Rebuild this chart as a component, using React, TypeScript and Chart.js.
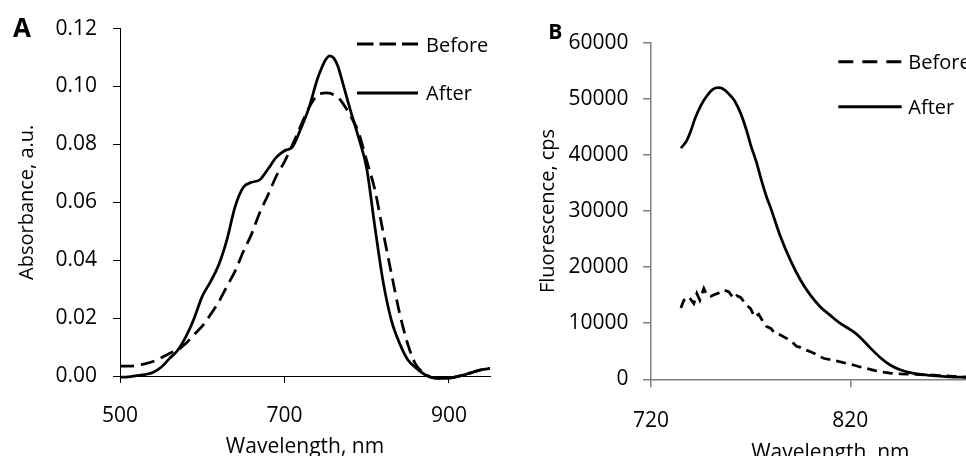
import React, { useEffect, useRef } from 'react';
import { Chart, registerables } from 'chart.js';

Chart.register(...registerables);

const FONT = '"Open Sans", "DejaVu Sans", sans-serif';

// ---------- Panel A: absorbance ----------
const wavelengthA = [500, 510, 520, 530, 540, 550, 560, 570, 580, 590, 600, 610, 620, 630, 640, 650, 660, 670, 680, 690, 700, 710, 720, 730, 740, 745, 750, 755, 760, 765, 770, 780, 790, 800, 810, 820, 830, 840, 850, 860, 870, 880, 890, 900, 910, 920, 930, 940, 950];
const absAfter = [-0.0004, -0.0003, 0.0001, 0.0005, 0.0012, 0.003, 0.006, 0.0088, 0.0135, 0.0198, 0.0275, 0.0325, 0.0383, 0.047, 0.0585, 0.0652, 0.0669, 0.0678, 0.0715, 0.0755, 0.0778, 0.0792, 0.0855, 0.0928, 0.1025, 0.1062, 0.1092, 0.1106, 0.1098, 0.107, 0.1022, 0.092, 0.0825, 0.0718, 0.0515, 0.0326, 0.0193, 0.0113, 0.0056, 0.0028, 0.0006, -0.0006, -0.0008, -0.0007, -0.0002, 0.0005, 0.0014, 0.0022, 0.0026];
const absBefore = [0.0034, 0.0034, 0.0036, 0.0042, 0.005, 0.0063, 0.0078, 0.009, 0.0112, 0.0143, 0.0172, 0.0212, 0.0255, 0.031, 0.0362, 0.043, 0.049, 0.0565, 0.0625, 0.069, 0.074, 0.08, 0.0865, 0.0928, 0.097, 0.0976, 0.0978, 0.0977, 0.0971, 0.0963, 0.0946, 0.09, 0.0842, 0.0744, 0.0643, 0.0497, 0.0355, 0.0218, 0.011, 0.0038, 0.001, -0.0006, -0.0008, -0.0007, -0.0002, 0.0005, 0.0014, 0.0022, 0.0026];
const xTicksA = [500, 700, 900];
const yTicksA = [0, 0.02, 0.04, 0.06, 0.08, 0.1, 0.12];

// ---------- Panel B: fluorescence ----------
const wavelengthBAfter = [735, 738, 740, 742, 745, 748, 751, 754, 756, 758, 760, 762, 765, 768, 770, 773, 775, 778, 780, 785, 790, 795, 800, 805, 810, 815, 820, 823, 826, 830, 835, 840, 845, 850, 855, 860, 865, 870, 877, 885, 900];
const fluoAfter = [41200, 42600, 44300, 46400, 48800, 50500, 51700, 52000, 51800, 51250, 50500, 49600, 47400, 44300, 41800, 38600, 36000, 32500, 30600, 25400, 21200, 17700, 15000, 12900, 11400, 9950, 8850, 8100, 7100, 5600, 3900, 2550, 1700, 1180, 900, 720, 560, 440, 360, 300, 250];
const wavelengthBBefore = [735, 736.5, 739, 741.5, 743, 744.5, 746.5, 748, 750, 752, 754, 756.5, 759, 761.5, 763, 765, 768, 770, 772, 774, 776, 778, 780, 782, 785, 788, 790, 793, 795, 798, 800, 802, 805, 807, 810, 814, 818, 822, 825, 828, 832, 835, 840, 845, 850, 855, 862, 868, 875, 885, 900];
const fluoBefore = [12700, 14100, 14700, 13500, 15300, 14100, 16200, 15000, 14800, 15100, 15400, 15900, 15600, 14400, 14900, 14600, 13200, 12600, 11100, 11600, 10400, 9400, 9100, 8300, 7900, 7300, 6900, 5900, 5700, 5200, 4900, 4600, 4000, 3700, 3500, 3200, 2850, 2500, 2200, 1950, 1600, 1350, 1100, 980, 900, 820, 760, 600, 460, 380, 300];
const xTicksB = [720, 820];
const yTicksB = [0, 10000, 20000, 30000, 40000, 50000, 60000];

const seriesLabels = ['Before', 'After'];

function toPoints(xs: number[], ys: number[]) {
  return xs.map((x, i) => ({ x, y: ys[i] }));
}

function makeOverlay(o: any) {
  return {
    id: 'panelOverlay',
    afterDraw(chart: any) {
      const ctx = chart.ctx as CanvasRenderingContext2D;
      ctx.save();
      ctx.fillStyle = '#000';
      ctx.textAlign = 'left';
      ctx.textBaseline = 'alphabetic';
      ctx.font = `bold ${o.letterSize}px ${FONT}`;
      ctx.fillText(o.letter, o.letterX, o.letterY);
      chart.data.datasets.forEach((ds: any, i: number) => {
        const y = o.legendY[i];
        ctx.beginPath();
        ctx.setLineDash(ds.borderDash && ds.borderDash.length ? o.legendDash : []);
        ctx.lineWidth = 3;
        ctx.strokeStyle = '#000';
        ctx.moveTo(o.legendX1, y);
        ctx.lineTo(o.legendX2, y);
        ctx.stroke();
        ctx.setLineDash([]);
        ctx.font = `${o.legendSize}px ${FONT}`;
        ctx.fillText(ds.label, o.textX, o.textY[i]);
      });
      ctx.restore();
    },
  };
}

function buildConfig(p: any): any {
  const axisColor = p.axisColor;
  return {
    type: 'line',
    data: {
      datasets: [
        {
          label: seriesLabels[0],
          data: p.before,
          borderColor: '#000',
          borderWidth: 2.75,
          borderDash: p.dash,
          pointRadius: 0,
          fill: false,
          clip: false,
          cubicInterpolationMode: p.beforeSmooth ? 'monotone' : 'default',
          tension: 0,
        },
        {
          label: seriesLabels[1],
          data: p.after,
          borderColor: '#000',
          borderWidth: 2.75,
          pointRadius: 0,
          fill: false,
          clip: false,
          cubicInterpolationMode: 'monotone',
        },
      ],
    },
    options: {
      responsive: false,
      animation: false,
      events: [],
      layout: { padding: p.padding },
      plugins: { legend: { display: false }, tooltip: { enabled: false }, title: { display: false } },
      scales: {
        x: {
          type: 'linear',
          min: p.xMin,
          max: p.xMax,
          afterBuildTicks: (s: any) => {
            s.ticks = p.xTicks.map((v: number) => ({ value: v }));
          },
          afterFit: (s: any) => {
            s.height = p.xAxisHeight;
          },
          grid: {
            display: true,
            drawOnChartArea: false,
            drawTicks: true,
            tickLength: p.tickLength,
            color: axisColor,
            tickColor: axisColor,
            lineWidth: p.axisWidth,
          },
          border: { display: true, color: axisColor, width: p.axisWidth },
          ticks: {
            color: '#000',
            font: { family: FONT, size: 21 },
            padding: p.xTickPad,
            maxRotation: 0,
            autoSkip: false,
            callback: (v: number) => String(v),
          },
          title: {
            display: true,
            text: 'Wavelength, nm',
            color: '#000',
            font: { family: FONT, size: 21 },
            padding: { top: 0, bottom: p.xTitlePad },
          },
        },
        y: {
          type: 'linear',
          min: p.yMin,
          max: p.yMax,
          afterBuildTicks: (s: any) => {
            s.ticks = p.yTicks.map((v: number) => ({ value: v }));
          },
          afterFit: (s: any) => {
            s.width = p.yAxisWidth;
          },
          grid: {
            display: true,
            drawOnChartArea: false,
            drawTicks: true,
            tickLength: p.tickLength,
            color: axisColor,
            tickColor: axisColor,
            lineWidth: p.axisWidth,
          },
          border: { display: true, color: axisColor, width: p.axisWidth },
          ticks: {
            color: '#000',
            font: { family: FONT, size: 21 },
            padding: p.yTickPad,
            autoSkip: false,
            callback: p.yFormat,
          },
          title: {
            display: true,
            text: p.yTitle,
            color: '#000',
            font: { family: FONT, size: 20 },
            padding: { top: p.yTitlePad, bottom: 0 },
          },
        },
      },
    },
    plugins: [makeOverlay(p.overlay)],
  };
}

export default function App() {
  const refA = useRef<HTMLCanvasElement>(null);
  const refB = useRef<HTMLCanvasElement>(null);

  useEffect(() => {
    document.body.style.margin = '0';
    const cfgA = buildConfig({
      before: toPoints(wavelengthA, absBefore),
      after: toPoints(wavelengthA, absAfter),
      beforeSmooth: true,
      dash: [14, 7],
      axisColor: '#000',
      axisWidth: 1,
      tickLength: 7,
      padding: { top: 23.3, left: 0, right: 10, bottom: 0 },
      xMin: 500,
      xMax: 950,
      xTicks: xTicksA,
      xAxisHeight: 94,
      xTickPad: 20,
      xTitlePad: 10.4,
      yMin: 0,
      yMax: 0.12,
      yTicks: yTicksA,
      yAxisWidth: 120,
      yTickPad: 16,
      yTitlePad: 15.6,
      yTitle: 'Absorbance, a.u.',
      yFormat: (v: number) => v.toFixed(2),
      overlay: {
        letter: 'A', letterSize: 26, letterX: 13, letterY: 36.7,
        legendX1: 357, legendX2: 418, legendY: [44, 93], legendDash: [16.5, 6],
        textX: 426, textY: [51.7, 100], legendSize: 20,
      },
    });
    const cfgB = buildConfig({
      before: toPoints(wavelengthBBefore, fluoBefore),
      after: toPoints(wavelengthBAfter, fluoAfter),
      beforeSmooth: false,
      dash: [10, 6],
      axisColor: '#808080',
      axisWidth: 1.5,
      tickLength: 8,
      padding: { top: 42.7, left: 0, right: 10.3, bottom: 0 },
      xMin: 720,
      xMax: 900,
      xTicks: xTicksB,
      xAxisHeight: 90.7,
      xTickPad: 21,
      xTitlePad: 4.4,
      yMin: 0,
      yMax: 60000,
      yTicks: yTicksB,
      yAxisWidth: 151,
      yTickPad: 14.5,
      yTitlePad: 36.3,
      yTitle: 'Fluorescence, cps',
      yFormat: (v: number) => String(v),
      overlay: {
        letter: 'B', letterSize: 21, letterX: 48.3, letterY: 39.3,
        legendX1: 338.3, legendX2: 401.7, legendY: [61.7, 106.7], legendDash: [15, 9],
        textX: 408.3, textY: [69.3, 114], legendSize: 20,
      },
    });
    const a = new Chart(refA.current as HTMLCanvasElement, cfgA);
    const b = new Chart(refB.current as HTMLCanvasElement, cfgB);
    return () => {
      a.destroy();
      b.destroy();
    };
  }, []);

  return (
    <div style={{ position: 'relative', width: 966, height: 456, overflow: 'hidden', background: '#fff' }}>
      <canvas ref={refA} width={500} height={470} style={{ position: 'absolute', left: 0, top: 0 }} />
      <canvas ref={refB} width={520} height={470} style={{ position: 'absolute', left: 500, top: 0 }} />
    </div>
  );
}
